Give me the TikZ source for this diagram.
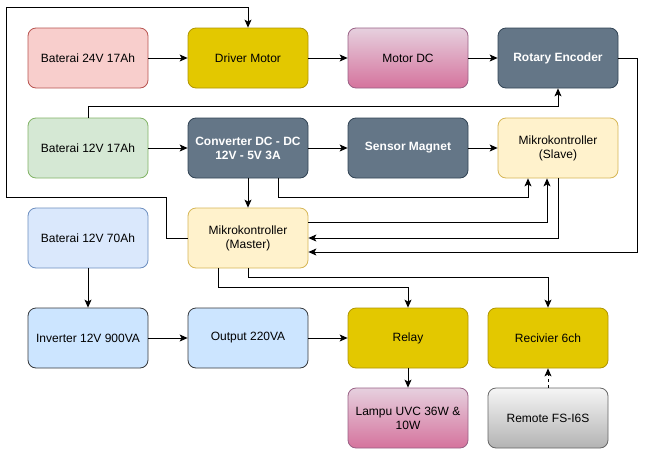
\documentclass[tikz,border=0pt]{standalone}
\usepackage{fontspec}
\setmainfont{Liberation Sans}
\usetikzlibrary{arrows.meta}
\definecolor{redF}{HTML}{F8CECC}\definecolor{redS}{HTML}{B85450}
\definecolor{greenF}{HTML}{D5E8D4}\definecolor{greenS}{HTML}{82B366}
\definecolor{blueF}{HTML}{DAE8FC}\definecolor{blueS}{HTML}{6C8EBF}
\definecolor{yelF}{HTML}{FFF2CC}\definecolor{yelS}{HTML}{D6B656}
\definecolor{goldF}{HTML}{E3C800}\definecolor{goldS}{HTML}{B09500}
\definecolor{slateF}{HTML}{647687}\definecolor{slateS}{HTML}{314354}
\definecolor{skyF}{HTML}{CCE5FF}\definecolor{skyS}{HTML}{36393D}
\definecolor{pinkT}{HTML}{E6D0DE}\definecolor{pinkB}{HTML}{D5739D}\definecolor{pinkS}{HTML}{996185}
\definecolor{greyT}{HTML}{F5F5F5}\definecolor{greyB}{HTML}{B3B3B3}\definecolor{greyS}{HTML}{666666}
\tikzset{
  box/.style={rectangle, rounded corners=8pt, minimum width=120pt, minimum height=60pt,
    inner sep=2pt, line width=0.8pt, align=center, font=\fontsize{12}{14}\selectfont, text=black},
  redbox/.style={box, fill=redF, draw=redS},
  greenbox/.style={box, fill=greenF, draw=greenS},
  bluebox/.style={box, fill=blueF, draw=blueS},
  yelbox/.style={box, fill=yelF, draw=yelS},
  goldbox/.style={box, fill=goldF, draw=goldS},
  slatebox/.style={box, fill=slateF, draw=slateS, text=white, font=\fontsize{12}{14}\selectfont\bfseries},
  skybox/.style={box, fill=skyF, draw=skyS},
  pinkbox/.style={box, top color=pinkT, bottom color=pinkB, draw=pinkS},
  greybox/.style={box, top color=greyT, bottom color=greyB, draw=greyS},
  conn/.style={line width=0.8pt, -{Stealth[length=8pt,width=7pt,inset=2pt]}},
}
\begin{document}
\begin{tikzpicture}[x=1pt,y=-1pt]
\useasboundingbox (0,0) rectangle (646,448);
\node[redbox] (b24) at (88,58) {Baterai 24V 17Ah};
\node[goldbox] (drv) at (248,58) {Driver Motor};
\node[pinkbox] (mdc) at (408,58) {Motor DC};
\node[slatebox] (enc) at (558,58) {Rotary Encoder};
\node[greenbox] (b17) at (88,148) {Baterai 12V 17Ah};
\node[slatebox] (conv) at (248,148) {Converter DC - DC\\12V - 5V 3A};
\node[slatebox] (sens) at (408,148) {Sensor Magnet};
\node[yelbox] (slave) at (558,148) {Mikrokontroller\\(Slave)};
\node[bluebox] (b70) at (88,238) {Baterai 12V 70Ah};
\node[yelbox] (master) at (248,238) {Mikrokontroller\\(Master)};
\node[skybox] (inv) at (88,338) {Inverter 12V 900VA};
\node[skybox] (out) at (248,338) {Output 220VA};
\node[goldbox] (relay) at (408,338) {Relay};
\node[goldbox] (recv) at (548,338) {Recivier 6ch};
\node[pinkbox] (lamp) at (408,418) {Lampu UVC 36W \&\\10W};
\node[greybox] (remote) at (548,418) {Remote FS-I6S};

\draw[conn] (b24) -- (drv);
\draw[conn] (drv) -- (mdc);
\draw[conn] (mdc) -- (enc);
\draw[conn] (enc.east) -- ++(19,0) |- ([yshift=-14pt]master.east);
\draw[conn] (b17.north) -- ++(0,-11) -| (enc.south);
\draw[conn] (b17) -- (conv);
\draw[conn] (conv) -- (sens);
\draw[conn] (sens) -- (slave);
\draw[conn] (conv) -- (master);
\draw[conn] ([xshift=30pt]conv.south) -- ++(0,19) -| ([xshift=-30pt]slave.south);
\draw[conn] ([yshift=16pt]master.east) -| ([xshift=-11pt]slave.south);
\draw[conn] (slave.south) |- (master.east);
\draw[conn] (master.west) -- ++(-21,0) -- ++(0,-41) -- ++(-160,0) -- ++(0,-190) -| (drv.north);
\draw[conn] (b70) -- (inv);
\draw[conn] (inv) -- (out);
\draw[conn] (out) -- (relay);
\draw[conn] ([xshift=-30pt]master.south) -- ++(0,19) -| (relay.north);
\draw[conn] (master.south) -- ++(0,9) -| (recv.north);
\draw[conn] (relay) -- (lamp);
\draw[conn, dash pattern=on 3pt off 3pt] (remote) -- (recv);
\end{tikzpicture}
\end{document}
